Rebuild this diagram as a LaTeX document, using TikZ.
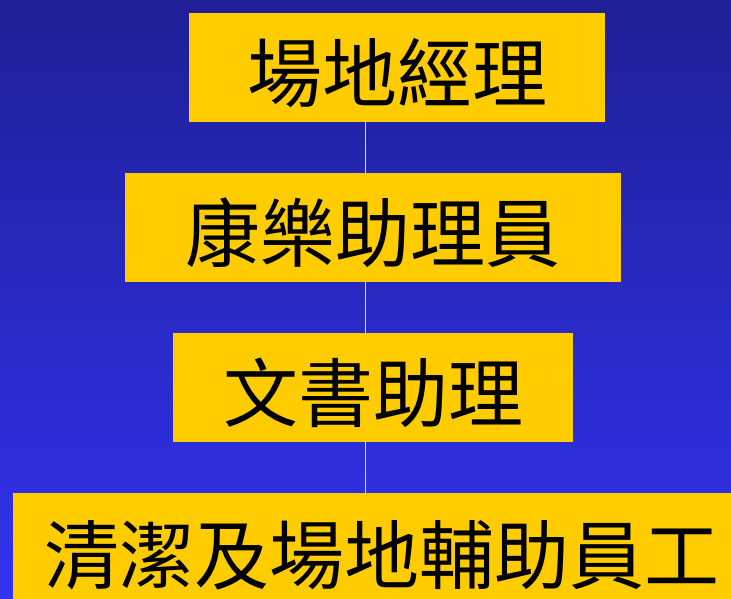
\documentclass[tikz,border=0pt]{standalone}
\usepackage{fontspec}
\newfontfamily\cjk{Noto Sans CJK TC}
\usetikzlibrary{positioning}

\definecolor{bgtop}{RGB}{31,31,150}
\definecolor{bgbottom}{RGB}{51,51,240}
\definecolor{boxyellow}{RGB}{255,204,0}
\definecolor{linelav}{RGB}{215,215,245}

\begin{document}
\begin{tikzpicture}[x=1pt, y=1pt,
    post/.style={fill=boxyellow, draw=none, inner sep=0pt, minimum height=109pt,
        text height=77pt, text depth=9pt,
        font=\cjk\fontsize{75}{82}\selectfont, text=black},
    conn/.style={linelav, line width=1pt}]
        % --- BACKGROUND ---
        \useasboundingbox (0,0) rectangle (731,-599);
        \clip (0,0) rectangle (731,-599);
        \shade[top color=bgtop, bottom color=bgbottom] (0,0) rectangle (731,-599);

        % --- POSTS ---
        \node[post, minimum width=416pt] (manager) at (397,-67.5) {場地經理};
        \node[post, minimum width=496pt] (recasst) at (373,-227.5) {康樂助理員};
        \node[post, minimum width=400pt] (clerk) at (373,-387.5) {文書助理};
        \node[post, minimum width=738pt, minimum height=112pt] (workers) at (382,-549) {清潔及場地輔助員工};

        % --- CONNECTORS ---
        \coordinate (xline) at (365,0);
        \draw[conn] (manager.south -| xline) -- (recasst.north -| xline);
        \draw[conn] (recasst.south -| xline) -- (clerk.north -| xline);
        \draw[conn] (clerk.south -| xline) -- (workers.north -| xline);
\end{tikzpicture}
\end{document}
